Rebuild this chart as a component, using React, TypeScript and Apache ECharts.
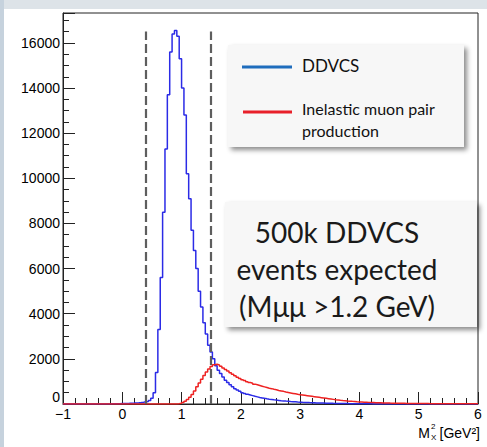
import React, { useEffect, useRef } from "react";
import * as echarts from "echarts";

// Histogram binning (GeV^2)
const X_MIN = -1;
const X_MAX = 6;
const BIN_WIDTH = 0.04;

// DDVCS histogram: counts per bin, first bin starts at BLUE_START
const BLUE_START = -0.2;
const blueCounts = [
  8, 10, 12, 14, 17, 20, 24, 28, 33, 40, 48, 57, 68, 80, 95, 115, 150,
  250, 500, 1400, 3300, 5600, 8500, 11300, 13700, 15600, 16400, 16550, 16300,
  15300, 14000, 12800, 10200, 9100, 7700, 6800, 6000, 5000, 4300, 3600, 3100,
  2600, 2300, 2000, 1700, 1500, 1350, 1200, 1050, 950, 850, 760, 680, 620, 560,
  500, 465, 430, 400, 370, 340, 315, 290, 270, 250, 232, 215, 200, 185, 172,
  160, 148, 138, 128, 119, 110, 102, 95, 88, 82, 76, 71, 66, 61, 57, 53, 49,
  45, 42, 39, 36, 33, 31, 28, 26, 24, 22, 20, 18, 17, 15, 14, 13, 12, 11, 10,
  9, 8, 7, 6, 5, 5, 4, 4, 3, 3, 2, 2,
];

// Inelastic muon pair production histogram, first bin starts at RED_START
const RED_START = 0.92;
const redCounts = [
  15, 35, 70, 120, 200, 300, 420, 580, 760, 930, 1100, 1260, 1420, 1550, 1660,
  1740, 1760, 1730, 1670, 1600, 1530, 1460, 1390, 1320, 1250, 1190, 1130, 1080,
  1040, 990, 950, 920, 880, 850, 820, 790, 760, 730, 700, 680, 650, 630, 600,
  580, 560, 530, 510, 490, 470, 450, 430, 415, 400, 385, 370, 355, 340, 325,
  310, 295, 280, 265, 250, 235, 220, 205, 190, 178, 166, 155, 145, 135, 126,
  117, 109, 101, 94, 88, 82, 77, 72, 67, 63, 59, 55, 52, 49, 46, 43, 40, 38,
  36, 34, 32, 30, 29, 27, 26, 24, 23, 22, 21, 20, 19, 18, 17, 16, 15, 15, 14,
  13, 13, 12, 11, 11, 10, 10, 9, 9, 8, 8, 8, 7, 7, 7, 6, 6,
];

// Selection cuts (dashed lines)
const cutPositions = [0.4, 1.5];
const cutHeight = 16500;

const xTicks = [-1, 0, 1, 2, 3, 4, 5, 6];
const Y_MAX = 17325;

const legendNames = ["DDVCS", "Inelastic muon pair", "production"];
const boxLines = ["500k DDVCS", "events expected", "(Mμμ >1.2 GeV)"];

function buildHist(start: number, counts: number[]) {
  const nBins = Math.round((X_MAX - X_MIN) / BIN_WIDTH);
  const offset = Math.round((start - X_MIN) / BIN_WIDTH);
  const pts: [number, number][] = [];
  for (let i = 0; i < nBins; i++) {
    const j = i - offset;
    const v = j >= 0 && j < counts.length ? counts[j] : 0;
    pts.push([+(X_MIN + i * BIN_WIDTH).toFixed(3), v]);
  }
  pts.push([X_MAX, pts[pts.length - 1][1]]);
  return pts;
}

export default function App() {
  const ref = useRef<HTMLDivElement>(null);
  useEffect(() => {
    document.body.style.margin = "0";
    const chart = echarts.init(ref.current!, null, { renderer: "svg" });
    const axisFont = { color: "#000", fontFamily: "Liberation Sans", fontSize: 14 };
    const boxFont = "Lato";
    const option: any = {
      animation: false,
      backgroundColor: "#fff",
      grid: {
        left: 63,
        right: 9,
        top: 13,
        bottom: 43,
        show: true,
        borderColor: "#222",
        borderWidth: 1,
        backgroundColor: "transparent",
      },
      xAxis: {
        type: "value",
        min: X_MIN,
        max: X_MAX,
        interval: 1,
        axisLine: { show: true, onZero: false, lineStyle: { color: "#222", width: 1 } },
        axisTick: { show: true, inside: true, length: 12, lineStyle: { color: "#222" } },
        minorTick: { show: true, splitNumber: 5, length: 6, lineStyle: { color: "#222" } },
        splitLine: { show: false },
        axisLabel: {
          ...axisFont,
          margin: 3,
          formatter: (v: number) =>
            xTicks.includes(v) ? (v < 0 ? "−" + Math.abs(v) : String(v)) : "",
        },
      },
      yAxis: {
        type: "value",
        min: 0,
        max: Y_MAX,
        interval: 2000,
        axisLine: { show: true, onZero: false, lineStyle: { color: "#222", width: 1 } },
        axisTick: { show: true, inside: true, length: 12, lineStyle: { color: "#222" } },
        minorTick: { show: true, splitNumber: 4, length: 6, lineStyle: { color: "#222" } },
        splitLine: { show: false },
        axisLabel: {
          ...axisFont,
          margin: 3,
          showMaxLabel: false,
          verticalAlignMinLabel: "bottom",
          formatter: (v: number) => String(v),
        },
      },
      series: [
        {
          name: "DDVCS",
          type: "line",
          step: "end",
          symbol: "none",
          data: buildHist(BLUE_START, blueCounts),
          lineStyle: { color: "#2b2be6", width: 1.5 },
          z: 2,
          markLine: {
            silent: true,
            symbol: "none",
            label: { show: false },
            lineStyle: { color: "#5e5e5e", type: [9, 4], width: 2.2 },
            data: cutPositions.map((c) => [
              { coord: [c, 0] },
              { coord: [c, cutHeight] },
            ]),
          },
        },
        {
          name: "Inelastic muon pair production",
          type: "line",
          step: "end",
          symbol: "none",
          data: buildHist(RED_START, redCounts),
          lineStyle: { color: "#ee2222", width: 1.5 },
          z: 3,
        },
      ],
      graphic: [
        // page frame strips
        { type: "rect", left: 0, top: 0, shape: { width: 487, height: 9 }, style: { fill: "#dde3e8" }, z: 100 },
        { type: "rect", left: 0, top: 0, shape: { width: 4, height: 447 }, style: { fill: "#c6d2dd" }, z: 100 },
        // legend box
        {
          type: "rect",
          shape: { x: 228, y: 45, width: 236, height: 102 },
          style: {
            fill: "#f7f7f7",
            shadowBlur: 5,
            shadowOffsetX: 3,
            shadowOffsetY: 3,
            shadowColor: "rgba(0,0,0,0.45)",
          },
          z: 100,
        },
        { type: "line", shape: { x1: 242, y1: 67, x2: 292, y2: 67 }, style: { stroke: "#1f6dbd", lineWidth: 3 }, z: 101 },
        { type: "line", shape: { x1: 243, y1: 112, x2: 292, y2: 112 }, style: { stroke: "#e8202a", lineWidth: 3 }, z: 101 },
        { type: "text", x: 302, y: 65, style: { text: legendNames[0], fontFamily: boxFont, fontSize: 17, fill: "#111", verticalAlign: "middle" }, z: 101 },
        { type: "text", x: 302, y: 108, style: { text: legendNames[1], fontFamily: boxFont, fontSize: 16, fill: "#111", verticalAlign: "middle" }, z: 101 },
        { type: "text", x: 302, y: 130, style: { text: legendNames[2], fontFamily: boxFont, fontSize: 16, fill: "#111", verticalAlign: "middle" }, z: 101 },
        // info box
        {
          type: "rect",
          shape: { x: 225, y: 202, width: 252, height: 125 },
          style: {
            fill: "#f7f7f7",
            shadowBlur: 5,
            shadowOffsetX: 3,
            shadowOffsetY: 3,
            shadowColor: "rgba(0,0,0,0.45)",
          },
          z: 100,
        },
        ...boxLines.map((t, i) => ({
          type: "text",
          x: 337,
          y: 232 + i * 37,
          style: { text: t, fontFamily: boxFont, fontSize: 28, fill: "#1a1a1a", align: "center", verticalAlign: "middle" },
          z: 101,
        })),
        // x axis title M_X^2 [GeV^2]
        { type: "text", x: 430, y: 433, style: { text: "M", fontFamily: "Liberation Sans", fontSize: 14, fill: "#000", align: "right", verticalAlign: "middle" }, z: 101 },
        { type: "text", x: 431, y: 426, style: { text: "2", fontFamily: "Liberation Sans", fontSize: 8, fill: "#000", align: "left", verticalAlign: "middle" }, z: 101 },
        { type: "text", x: 431, y: 437, style: { text: "X", fontFamily: "Liberation Sans", fontSize: 8, fill: "#000", align: "left", verticalAlign: "middle" }, z: 101 },
        { type: "text", x: 480, y: 433, style: { text: "[GeV²]", fontFamily: "Liberation Sans", fontSize: 14, fill: "#000", align: "right", verticalAlign: "middle" }, z: 101 },
      ],
    };
    chart.setOption(option);
    return () => chart.dispose();
  }, []);
  return <div ref={ref} style={{ width: 487, height: 447 }} />;
}
